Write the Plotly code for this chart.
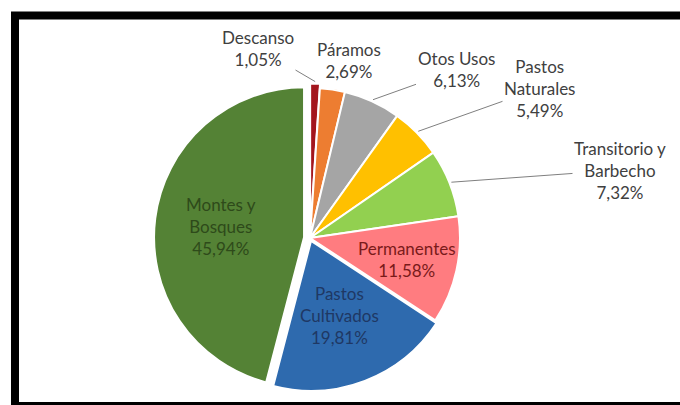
import math
import plotly.graph_objects as go

categories = ["Descanso", "Páramos", "Otos Usos", "Pastos Naturales",
              "Transitorio y Barbecho", "Permanentes", "Pastos Cultivados",
              "Montes y Bosques"]
display_names = ["Descanso", "Páramos", "Otos Usos", "Pastos<br>Naturales",
                 "Transitorio y<br>Barbecho", "Permanentes", "Pastos<br>Cultivados",
                 "Montes y<br>Bosques"]
shares = [1.05, 2.69, 6.13, 5.49, 7.32, 11.58, 19.81, 45.94]

colors = ["#A3161D", "#ED7D31", "#A5A5A5", "#FFC000",
          "#92D050", "#FF7C80", "#2E6AAE", "#548235"]
text_colors = ["#404040", "#404040", "#404040", "#404040",
               "#404040", "#7A1A1A", "#1F3864", "#2E4A1A"]
pulls = [0.03, 0.0, 0.0, 0.0, 0.0, 0.0, 0.02, 0.04]

W, H = 680, 405
# pie geometry (pixels)
CX, CY, R = 310, 238, 150
max_pull = max(pulls)
half = R * (1 + max_pull)

# label placement (style): outside labels given by pixel position, inside by radius fraction
outside_pos = {0: (258, 48), 1: (349, 60), 2: (456, 70), 3: (540, 88), 4: (620, 170)}
leader = {0: True, 1: False, 2: True, 3: True, 4: True}
inside_frac = {5: 0.66, 6: 0.55, 7: 0.6}

fig = go.Figure(go.Pie(
    labels=categories,
    values=shares,
    textinfo="none",
    marker=dict(colors=colors, line=dict(color="white", width=2)),
    sort=False,
    direction="clockwise",
    rotation=0,
    pull=pulls,
    domain=dict(x=[(CX - half) / W, (CX + half) / W],
                y=[1 - (CY + half) / H, 1 - (CY - half) / H]),
    showlegend=False,
    hoverinfo="label+value",
))

total = sum(shares)
cum = 0.0
font_family = "Lato, Open Sans, sans-serif"
for i, (name, v) in enumerate(zip(display_names, shares)):
    mid = (cum + v / 2) / total * 2 * math.pi
    cum += v
    txt = f"{name}<br>{v:.2f}%".replace(".", ",")
    font = dict(family=font_family, size=17, color=text_colors[i])
    if i in outside_pos:
        rr = R * (1 + pulls[i]) + 2
        tx = CX + rr * math.sin(mid)
        ty = CY - rr * math.cos(mid)
        lx, ly = outside_pos[i]
        if leader[i]:
            fig.add_annotation(
                x=tx / W, y=1 - ty / H, xref="paper", yref="paper",
                ax=lx - tx, ay=ly - ty, text=txt, showarrow=True,
                arrowhead=0, arrowwidth=1, arrowcolor="#7F7F7F",
                font=font, align="center", standoff=0,
                xanchor="center", yanchor="middle",
            )
        else:
            fig.add_annotation(
                x=lx / W, y=1 - ly / H, xref="paper", yref="paper",
                text=txt, showarrow=False, font=font, align="center",
                xanchor="center", yanchor="middle",
            )
    else:
        rr = R * inside_frac[i]
        px = CX + rr * math.sin(mid)
        py = CY - rr * math.cos(mid)
        fig.add_annotation(
            x=px / W, y=1 - py / H, xref="paper", yref="paper",
            text=txt, showarrow=False, font=font, align="center",
            xanchor="center", yanchor="middle",
        )

fig.add_shape(type="rect", xref="paper", yref="paper",
              x0=15 / W, x1=1.03, y0=-1 / H, y1=1 - 15.5 / H,
              line=dict(color="black", width=8), fillcolor="rgba(0,0,0,0)",
              layer="above")

fig.update_layout(
    width=W, height=H,
    margin=dict(l=0, r=0, t=0, b=0, autoexpand=False),
    paper_bgcolor="white",
    plot_bgcolor="white",
)

fig.write_html("out.html")
